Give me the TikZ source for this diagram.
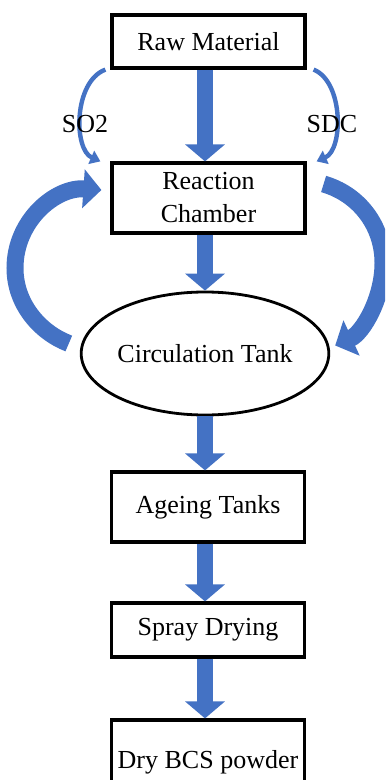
\documentclass[tikz,border=0pt]{standalone}
\usepackage{fontspec}
\setmainfont{Liberation Serif}
\usetikzlibrary{arrows.meta,shapes.geometric}
\definecolor{flowblue}{RGB}{68,114,196}
\tikzset{
  box/.style={draw, line width=1.6pt, minimum width=96.5pt, inner sep=0pt, align=center},
  tank/.style={draw, ellipse, line width=1.4pt, minimum width=120pt, minimum height=61.5pt, inner sep=0pt},
  flow/.style={draw=flowblue, line width=8pt, -{Triangle[width=19.5pt,length=8.5pt]}},
  recycle/.style={draw=flowblue, line width=8.5pt, -{Triangle[width=19pt,length=9pt]}},
  feed/.style={draw=flowblue, line width=2.2pt, -{Triangle[width=7pt,length=5pt]}},
}
\begin{document}
\begin{tikzpicture}[x=0.5pt, y=-0.5pt, font=\fontsize{13}{16.5}\selectfont]
\clip (0,0) rectangle (385,780);
\fill[white] (0,0) rectangle (385,780);
% process boxes
\node[box, minimum height=26.5pt] (raw) at (208.5,41.5) {Raw Material};
\node[box, minimum height=35pt] (reac) at (208.5,198) {Reaction\\Chamber};
\node[tank] (tank) at (205,353.5) {Circulation Tank};
\node[box, minimum height=35pt] (age) at (208,507) {Ageing Tanks};
\node[box, minimum height=27pt] (spray) at (208,630) {Spray Drying};
\node[box, minimum height=42pt] (dry) at (208,762) {Dry BCS powder};
% main flow
\draw[flow] (raw.south -| tank.north) -- (reac.north -| tank.north);
\draw[flow] (reac.south -| tank.north) -- (tank.north);
\draw[flow] (tank.south) -- (age.north -| tank.south);
\draw[flow] (age.south -| tank.south) -- (spray.north -| tank.south);
\draw[flow] (spray.south -| tank.south) -- (dry.north -| tank.south);
% feeds
\draw[feed] ([xshift=-2.5pt]raw.south west) .. controls +(-32,12) and +(-27,-12) .. ([xshift=-5pt]reac.north west);
\draw[feed] ([xshift=3.5pt]raw.south east) .. controls +(30,12) and +(27,-12) .. ([xshift=5pt]reac.north east);
\node (so2) at (85,124) {SO2};
\node (sdc) at (332,124) {SDC};
% circulation loop
\coordinate (loopW) at (15,268);
\coordinate (loopE) at (383,263);
\draw[recycle] ([shift={(-11,-10)}]tank.west) .. controls (39.7,332.3) and (15,303.9) .. (loopW)
  .. controls (15,220.5) and (55.6,186.9) .. ([shift={(-9,-8)}]reac.west);
\draw[recycle] ([shift={(17,-14)}]reac.east) .. controls (358.4,194) and (383,225.2) .. (loopE)
  .. controls (383,298.1) and (362.9,332.8) .. ([shift={(5,-8)}]tank.east);
\end{tikzpicture}
\end{document}
